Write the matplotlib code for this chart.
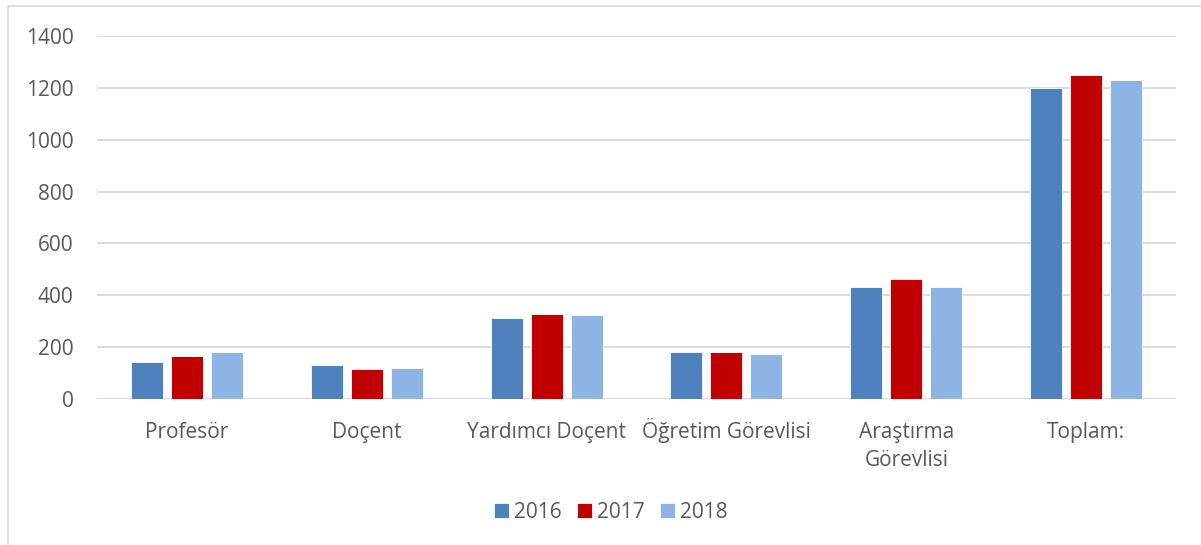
import numpy as np
import matplotlib.pyplot as plt
from matplotlib.patches import Rectangle
from matplotlib.transforms import offset_copy

plt.rcParams['font.family'] = ['Open Sans', 'DejaVu Sans']

categories = ['Profesör', 'Doçent', 'Yardımcı Doçent', 'Öğretim Görevlisi',
              'Araştırma\nGörevlisi', 'Toplam:']
years = ['2016', '2017', '2018']
vals_2016 = [142, 130, 313, 181, 432, 1198]
vals_2017 = [165, 115, 327, 180, 461, 1248]
vals_2018 = [180, 120, 324, 173, 432, 1229]
yticks = [0, 200, 400, 600, 800, 1000, 1200, 1400]

colors = ['#4F81BD', '#C00000', '#8EB4E3']
txt = '#595959'

W, H = 1201, 545
fig = plt.figure(figsize=(W / 100, H / 100), dpi=100)
ax = fig.add_axes([97 / W, (H - 399) / H, (1176 - 97) / W, (399 - 36) / H])

# light frame around the chart area (only top/left visible in the crop)
fig.patches.append(Rectangle((8 / W, -0.1), 1.2, (H - 6) / H + 0.1,
                             transform=fig.transFigure, fill=False,
                             edgecolor='#D9D9D9', linewidth=1.2))

x = np.arange(len(categories))
bw = 0.178
step = 0.222
for i, (vals, c, lab) in enumerate(zip([vals_2016, vals_2017, vals_2018], colors, years)):
    ax.bar(x + (i - 1) * step, vals, width=bw, color=c, label=lab,
           edgecolor='white', linewidth=0.6, zorder=3)

ax.set_xlim(-0.5, len(categories) - 0.5)
ax.set_ylim(0, 1400)
ax.set_yticks(yticks)
ax.set_xticks(x)
ax.set_xticklabels([])
# category labels, each line on its own baseline (like Excel does)
for xi, lab in zip(x, categories):
    for j, line in enumerate(lab.split('\n')):
        tr = offset_copy(ax.get_xaxis_transform(), fig=fig, y=-(28 + 20 * j), units='points')
        ax.text(xi, 0, line, transform=tr, ha='center', va='baseline',
                fontsize=15, color=txt)
ax.tick_params(axis='y', labelsize=15, labelcolor=txt, length=0, pad=17)
ax.tick_params(axis='x', length=0)
ax.grid(axis='y', color='#D9D9D9', linewidth=1.3, zorder=0)
for s in ax.spines.values():
    s.set_visible(False)

leg = fig.legend(loc='center', bbox_to_anchor=(611 / W, (H - 512) / H), ncol=3,
                 frameon=False, fontsize=15, handlelength=0.7, handleheight=0.7,
                 handletextpad=0.25, columnspacing=0.75)
for t in leg.get_texts():
    t.set_color(txt)

fig.savefig('out.png', dpi=100)
